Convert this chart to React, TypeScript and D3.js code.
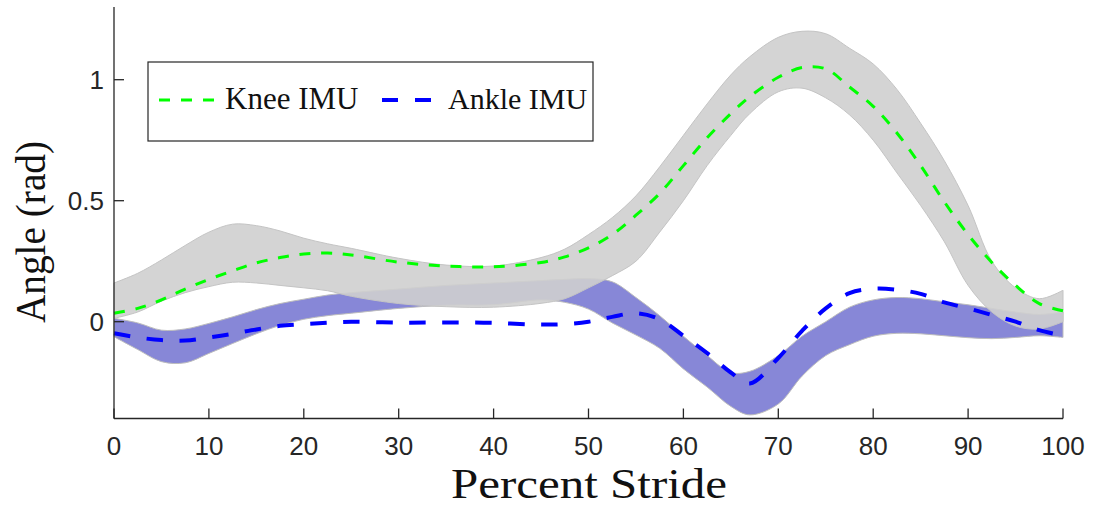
import React from "react";
import * as d3 from "d3";

// Percent of stride at which every series is sampled
const stride = [0, 2.5, 5, 7.5, 10, 12.5, 15, 17.5, 20, 22.5, 25, 30, 35, 40, 45, 47.5, 50, 52.5, 55, 57.5, 60, 62.5, 65, 67, 70, 72.5, 75, 77.5, 80, 82.5, 85, 87.5, 90, 92.5, 95, 97.5, 100];

// Knee angle (rad): IMU estimate and reference envelope
const kneeImu = [0.035, 0.055, 0.09, 0.135, 0.175, 0.21, 0.243, 0.265, 0.28, 0.284, 0.276, 0.246, 0.23, 0.227, 0.245, 0.268, 0.305, 0.36, 0.44, 0.53, 0.645, 0.76, 0.86, 0.93, 1.01, 1.05, 1.045, 0.97, 0.89, 0.78, 0.645, 0.495, 0.36, 0.245, 0.15, 0.075, 0.045];
const kneeUpper = [0.16, 0.2, 0.255, 0.315, 0.37, 0.403, 0.397, 0.375, 0.345, 0.322, 0.303, 0.262, 0.234, 0.23, 0.265, 0.3, 0.36, 0.43, 0.52, 0.64, 0.77, 0.9, 1.02, 1.095, 1.175, 1.2, 1.19, 1.13, 1.065, 0.96, 0.82, 0.665, 0.48, 0.25, 0.14, 0.095, 0.13];
const kneeLower = [0.014, 0.04, 0.085, 0.12, 0.145, 0.163, 0.16, 0.15, 0.14, 0.128, 0.105, 0.075, 0.062, 0.06, 0.076, 0.095, 0.14, 0.19, 0.25, 0.37, 0.5, 0.645, 0.77, 0.86, 0.95, 0.965, 0.925, 0.855, 0.75, 0.615, 0.48, 0.33, 0.15, 0.04, -0.018, -0.03, 0.0];

// Ankle angle (rad): IMU estimate and reference envelope
const ankleImu = [-0.048, -0.065, -0.076, -0.078, -0.065, -0.05, -0.032, -0.017, -0.01, -0.004, 0.0, -0.004, -0.003, -0.005, -0.012, -0.01, 0.0, 0.02, 0.035, 0.01, -0.058, -0.13, -0.21, -0.255, -0.15, -0.038, 0.055, 0.118, 0.136, 0.132, 0.115, 0.08, 0.055, 0.028, 0.0, -0.035, -0.058];
const ankleUpper = [0.014, -0.005, -0.035, -0.03, -0.007, 0.02, 0.05, 0.075, 0.093, 0.11, 0.12, 0.135, 0.15, 0.16, 0.17, 0.175, 0.178, 0.165, 0.1, 0.025, -0.06, -0.14, -0.21, -0.205, -0.14, -0.06, 0.0, 0.06, 0.09, 0.1, 0.095, 0.082, 0.07, 0.055, 0.04, 0.03, 0.04];
const ankleLower = [-0.062, -0.115, -0.165, -0.17, -0.131, -0.09, -0.05, -0.015, 0.01, 0.025, 0.035, 0.055, 0.068, 0.07, 0.09, 0.08, 0.052, -0.005, -0.055, -0.11, -0.195, -0.27, -0.35, -0.385, -0.34, -0.225, -0.14, -0.095, -0.06, -0.048, -0.05, -0.058, -0.066, -0.07, -0.065, -0.058, -0.065];

const xTicks = [0, 10, 20, 30, 40, 50, 60, 70, 80, 90, 100];
const yTicks = [0, 0.5, 1];

const seriesNames = ["Knee IMU", "Ankle IMU"];

export default function App() {
  const W = 1094;
  const H = 508;
  const x = d3.scaleLinear().domain([0, 100]).range([114, 1063]);
  const y = d3.scaleLinear().domain([-0.4, 1.3]).range([418.5, 7.1]);

  const idx = stride.map((_, i) => i);
  const band = (lo: number[], hi: number[]) =>
    d3
      .area<number>()
      .x((i) => x(stride[i]))
      .y0((i) => y(lo[i]))
      .y1((i) => y(hi[i]))
      .curve(d3.curveCatmullRom.alpha(0.5))(idx) || "";
  const line = (v: number[]) =>
    d3
      .line<number>()
      .x((i) => x(stride[i]))
      .y((i) => y(v[i]))
      .curve(d3.curveCatmullRom.alpha(0.5))(idx) || "";

  const axisColor = "#262626";
  const tickFont = "'Liberation Sans', Arial, sans-serif";
  const serif = "'Liberation Serif', 'Times New Roman', serif";
  const x0 = x(0);
  const yBottom = y(-0.4);
  const yTop = y(1.3);

  return (
    <svg
      width={W}
      height={H}
      style={{ position: "absolute", left: 0, top: 0, background: "#fff" }}
    >
      {/* envelopes */}
      <path d={band(ankleLower, ankleUpper)} fill="#8787d7" stroke="#bdbdbd" strokeWidth={1} />
      <path d={band(kneeLower, kneeUpper)} fill="#cfcfcf" fillOpacity={0.9} stroke="#c4c4c4" strokeWidth={1} />

      {/* IMU estimates */}
      <path d={line(kneeImu)} fill="none" stroke="#00ff00" strokeWidth={3} strokeDasharray="11 10.7" />
      <path d={line(ankleImu)} fill="none" stroke="#0000ff" strokeWidth={4} strokeDasharray="16.5 16.5" />

      {/* axes */}
      <line x1={x0} x2={x0} y1={yTop} y2={yBottom} stroke={axisColor} strokeWidth={1.3} />
      <line x1={x0} x2={x(100)} y1={yBottom} y2={yBottom} stroke={axisColor} strokeWidth={1.3} />
      {xTicks.map((t) => (
        <g key={"xt" + t}>
          <line x1={x(t)} x2={x(t)} y1={yBottom} y2={yBottom - 10} stroke={axisColor} strokeWidth={1.3} />
          <text
            x={x(t)}
            y={455}
            textAnchor="middle"
            fontFamily={tickFont}
            fontSize={26}
            fill={axisColor}
          >
            {t}
          </text>
        </g>
      ))}
      {yTicks.map((t) => (
        <g key={"yt" + t}>
          <line x1={x0} x2={x0 + 10} y1={y(t)} y2={y(t)} stroke={axisColor} strokeWidth={1.3} />
          <text
            x={104}
            y={y(t) + 9}
            textAnchor="end"
            fontFamily={tickFont}
            fontSize={26}
            fill={axisColor}
          >
            {t}
          </text>
        </g>
      ))}

      {/* axis titles */}
      <text
        x={589}
        y={498}
        textAnchor="middle"
        fontFamily={serif}
        fontSize={42}
        fill="#111"
        textLength={276}
        lengthAdjust="spacingAndGlyphs"
      >
        Percent Stride
      </text>
      <text
        transform="translate(45,232) rotate(-90)"
        textAnchor="middle"
        fontFamily={serif}
        fontSize={42}
        fill="#111"
        textLength={182}
        lengthAdjust="spacingAndGlyphs"
      >
        Angle (rad)
      </text>

      {/* legend */}
      <rect x={148} y={62} width={445} height={79} fill="#fff" stroke={axisColor} strokeWidth={1.2} />
      <line x1={159} x2={215} y1={100} y2={100} stroke="#00ff00" strokeWidth={3} strokeDasharray="11 11" />
      <text x={225} y={109} fontFamily={serif} fontSize={31} fill="#111">
        {seriesNames[0]}
      </text>
      <line x1={382} x2={431} y1={100} y2={100} stroke="#0000ff" strokeWidth={4} strokeDasharray="16 17" />
      <text x={448} y={109} fontFamily={serif} fontSize={30} fill="#111">
        {seriesNames[1]}
      </text>
    </svg>
  );
}
